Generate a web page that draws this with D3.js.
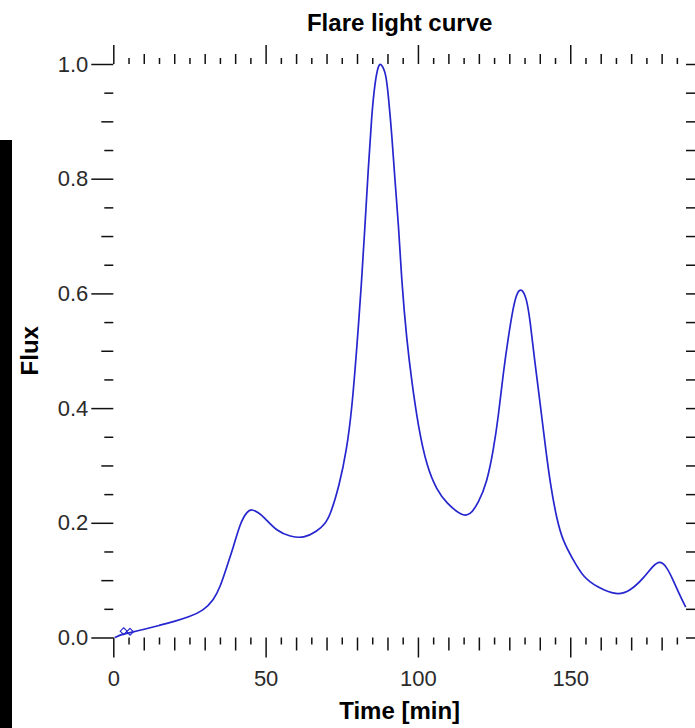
<!DOCTYPE html>
<html lang="en">
<head>
    <meta charset="UTF-8">
    <title>Flare light curve</title>
    <script src="https://d3js.org/d3.v7.min.js"></script>
    <style>
        body { margin: 0; background: #fff; }
        .ticklab text { font-family: "Liberation Sans", Arial, sans-serif; font-size: 22px; fill: #2a2a2a; }
        .axis path.domain { display: none; }
        .axis line { stroke: #111; stroke-width: 1.5; }
        .lab { font-family: "Liberation Sans", Arial, sans-serif; font-weight: bold; fill: #000; }
    </style>
</head>
<body>
    <div id="chart"></div>
    <script>
        // light curve: time in min, normalised flux
        const time = [0.5, 3, 6, 10, 15, 20, 25, 29.6, 32.9, 35.1, 37.3, 39.5, 41.7, 43.9, 45.5, 47.5,
            49.3, 53.7, 58.1, 62.5, 66.9, 69.5, 71.2, 74.2, 76.6, 78.3, 79.9, 81.5, 82.6, 83.7, 84.8,
            85.9, 87, 87.8, 89.5, 90.3, 91.4, 92.5, 93.6, 94.7, 96.3, 98, 100.1, 102.9, 106.2, 109.4,
            114.4, 117.1, 119.8, 122.6, 124.8, 126.4, 128, 129.7, 131.3, 132.6, 134.1, 135.7, 136.8,
            138.4, 140.1, 141.7, 143.4, 145.6, 147.7, 151, 154.3, 158.7, 165.3, 169.6, 174, 177.3,
            179.5, 181.7, 183.8, 186, 187.9];
        const flux = [0.0, 0.006, 0.009, 0.014, 0.021, 0.028, 0.036, 0.047, 0.065, 0.088, 0.124, 0.159,
            0.2, 0.22, 0.224, 0.218, 0.211, 0.185, 0.176, 0.173, 0.185, 0.198, 0.213, 0.265, 0.327,
            0.397, 0.502, 0.619, 0.717, 0.817, 0.91, 0.969, 0.998, 1.002, 0.985, 0.944, 0.88, 0.793,
            0.723, 0.618, 0.52, 0.445, 0.368, 0.298, 0.257, 0.234, 0.212, 0.213, 0.234, 0.269, 0.327,
            0.385, 0.461, 0.525, 0.577, 0.603, 0.609, 0.591, 0.554, 0.479, 0.409, 0.339, 0.269, 0.205,
            0.167, 0.135, 0.105, 0.088, 0.073, 0.081, 0.103, 0.126, 0.134, 0.123, 0.1, 0.073, 0.053];

        // the two little diamonds near the start
        const markTime = [3.4, 5.5];
        const markFlux = [0.011, 0.01];

        const xMajor = [0, 50, 100, 150];
        const yMajor = [0, 0.2, 0.4, 0.6, 0.8, 1.0];

        const W = 695, H = 728;
        const pLeft = 113.3, pRight = 686, pTop = 64, pBottom = 637.5;

        const svg = d3.select("#chart").append("svg")
            .attr("width", W)
            .attr("height", H);

        const x = d3.scaleLinear().domain([0, 188]).range([pLeft, pRight]);
        const y = d3.scaleLinear().domain([0, 1]).range([pBottom, pTop]);

        // minor ticks: every 5 min / 0.05, the 10 min / 0.1 ones a bit longer
        const x5 = d3.range(5, 188, 10);
        const x10 = d3.range(10, 188, 10).filter(d => d % 50 !== 0);
        const y05 = d3.range(0.05, 1, 0.1);
        const y10 = [0.1, 0.3, 0.5, 0.7, 0.9];

        function ticks(axisFn, pos, vals, size, transform, labels) {
            const ax = axisFn(pos).tickValues(vals).tickSize(size);
            if (!labels) ax.tickFormat("");
            return svg.append("g")
                .attr("class", "axis" + (labels ? " ticklab" : ""))
                .attr("transform", transform)
                .call(ax);
        }

        // bottom
        const bx = ticks(d3.axisBottom, x, xMajor, 20, `translate(0,${pBottom})`, true);
        bx.call(g => g.selectAll("text").attr("dy", null).attr("y", 48.5));
        ticks(d3.axisBottom, x, x10, 13, `translate(0,${pBottom})`, false);
        ticks(d3.axisBottom, x, x5, 7, `translate(0,${pBottom})`, false);
        // top
        ticks(d3.axisTop, x, xMajor, 19, `translate(0,${pTop})`, false);
        ticks(d3.axisTop, x, x10, 10, `translate(0,${pTop})`, false);
        ticks(d3.axisTop, x, x5, 6, `translate(0,${pTop})`, false);

        // left
        const ly = ticks(d3.axisLeft, y, yMajor, 22, `translate(${pLeft},0)`, true);
        ly.call(g => g.selectAll("text").attr("x", -25).text(d => d3.format(".1f")(d)));
        ticks(d3.axisLeft, y, y10, 12, `translate(${pLeft},0)`, false);
        ticks(d3.axisLeft, y, y05, 9, `translate(${pLeft},0)`, false);
        // right
        ticks(d3.axisRight, y, yMajor, 22, `translate(${pRight},0)`, false);
        ticks(d3.axisRight, y, y10, 12, `translate(${pRight},0)`, false);
        ticks(d3.axisRight, y, y05, 9, `translate(${pRight},0)`, false);

        const pts = time.map((t, i) => [t, flux[i]]);

        svg.append("path")
            .datum(pts)
            .attr("fill", "none")
            .attr("stroke", "#2626cf")
            .attr("stroke-width", 1.7)
            .attr("d", d3.line()
                .x(d => x(d[0]))
                .y(d => y(d[1]))
                .curve(d3.curveBasis));

        svg.selectAll(".mark")
            .data(markTime)
            .enter()
            .append("path")
            .attr("class", "mark")
            .attr("transform", (d, i) => `translate(${x(d)},${y(markFlux[i])})`)
            .attr("d", d3.symbol(d3.symbolDiamond2, 30))
            .attr("fill", "none")
            .attr("stroke", "#2626cf")
            .attr("stroke-width", 1.1);

        svg.append("text")
            .attr("class", "lab")
            .attr("x", (pLeft + pRight) / 2)
            .attr("y", 31)
            .attr("text-anchor", "middle")
            .attr("font-size", 24)
            .text("Flare light curve");

        svg.append("text")
            .attr("class", "lab")
            .attr("x", (pLeft + pRight) / 2)
            .attr("y", 719)
            .attr("text-anchor", "middle")
            .attr("font-size", 24)
            .text("Time [min]");

        svg.append("text")
            .attr("class", "lab")
            .attr("transform", `translate(38,${(pTop + pBottom) / 2}) rotate(-90)`)
            .attr("text-anchor", "middle")
            .attr("font-size", 24)
            .text("Flux");

        // dark strip along the left edge of the picture
        svg.append("rect")
            .attr("x", 0)
            .attr("y", 140)
            .attr("width", 12)
            .attr("height", H - 140)
            .attr("fill", "#000");
    </script>
</body>
</html>
